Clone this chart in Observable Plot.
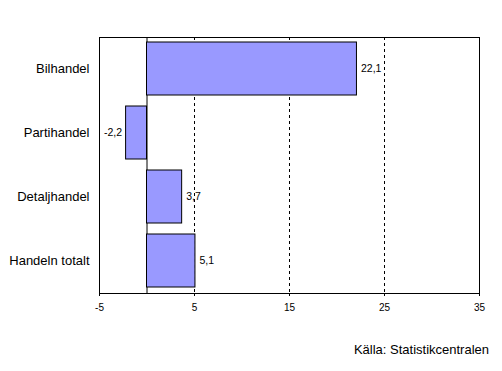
<!DOCTYPE html>
<html>
<head>
<meta charset="utf-8">
<script src="https://cdn.jsdelivr.net/npm/d3@7"></script>
<script src="https://cdn.jsdelivr.net/npm/@observablehq/plot@0.6"></script>
<style>
  html, body { margin: 0; padding: 0; background: #fff; }
  #wrap { position: relative; width: 502px; height: 371px; font-family: "Liberation Sans", Arial, sans-serif; }
  #caption { position: absolute; right: 13px; top: 342px; font-size: 13px; color: #000; white-space: nowrap; }
</style>
</head>
<body>
<div id="wrap">
  <div id="chart"></div>
  <div id="caption">Källa: Statistikcentralen</div>
</div>
<script>
const categories = ["Bilhandel", "Partihandel", "Detaljhandel", "Handeln totalt"];
const values = [22.1, -2.2, 3.7, 5.1];
const xTicks = [-5, 5, 15, 25, 35];
const gridLines = [5, 15, 25];

const data = categories.map((c, i) => ({cat: c, value: values[i]}));
const fmt = v => String(v.toFixed(1)).replace(".", ",");

const chart = Plot.plot({
  width: 502,
  height: 371,
  marginTop: 37,
  marginBottom: 78,
  marginLeft: 99,
  marginRight: 23,
  style: {fontFamily: "'Liberation Sans', Arial, sans-serif", background: "white", color: "black"},
  x: {domain: [-5, 35], ticks: xTicks, label: null},
  y: {domain: categories, paddingInner: 0.17, paddingOuter: 0.085, label: null},
  marks: [
    Plot.ruleX(gridLines, {stroke: "black", strokeDasharray: "3,3", strokeWidth: 1}),
    Plot.ruleX([0], {stroke: "black", strokeWidth: 1}),
    Plot.barX(data, {x: "value", y: "cat", fill: "#9999ff", stroke: "black", strokeWidth: 1}),
    Plot.text(data.filter(d => d.value >= 0), {x: "value", y: "cat", text: d => fmt(d.value), textAnchor: "start", dx: 4, fontSize: 10.5, fill: "black"}),
    Plot.text(data.filter(d => d.value < 0), {x: "value", y: "cat", text: d => fmt(d.value), textAnchor: "end", dx: -4, fontSize: 10.5, fill: "black"}),
    Plot.frame({stroke: "black", strokeWidth: 1}),
    Plot.axisX({ticks: xTicks, tickSize: 3, tickPadding: 7, fontSize: 10, tickFormat: d => String(d), label: null}),
    Plot.axisY({tickSize: 0, tickPadding: 10, fontSize: 13, label: null})
  ]
});
document.getElementById("chart").appendChild(chart);
</script>
</body>
</html>
